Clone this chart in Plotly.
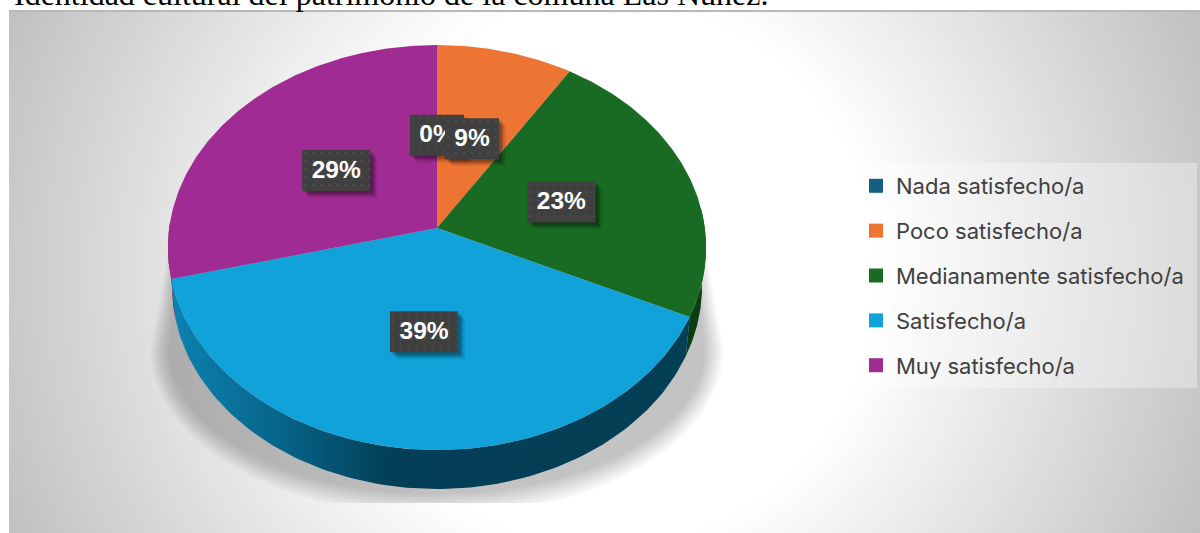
import numpy as np
import plotly.graph_objects as go

# ---- data ----
categories = ["Nada satisfecho/a", "Poco satisfecho/a", "Medianamente satisfecho/a", "Satisfecho/a", "Muy satisfecho/a"]
values = [0, 9, 23, 39, 29]
colors = ["#156082", "#EE7433", "#196B24", "#11A2DA", "#A02B93"]
wall_colors = ["#0b3a50", "#7a3a18", "#0b3d10", "#043f55", "#5a1853"]
title_text = "Identidad cultural del patrimonio de la comuna Las Núñez."

# ---- pie projection (tilted disc in perspective, axis units are pixels) ----
CX, CY, AX, BY, K, DEPTH = 437.0, 228.0, 267.8, 200.6, 0.0963, 39.0
W, H = 1200, 533


def project(t_deg, f=1.0, dy=0.0, sx=1.0):
    t = np.radians(np.asarray(t_deg, dtype=float))
    X, Y = f * np.sin(t), f * np.cos(t)
    w = 1 + K * Y
    return CX + sx * AX * X / w, CY + dy - BY * Y / w


cum = np.concatenate([[0], np.cumsum(values)]) / sum(values) * 360
fig = go.Figure()

# ---- chart background ----
gx = np.arange(12, 1204, 6.0)
gy = np.arange(14, 537, 6.0)
gxx, gyy = np.meshgrid(gx, gy)
rad = np.hypot(gxx - 604, gyy - 272)
z = 255 - 63 * np.clip((rad - 270) / 380, 0, 1.05)
fig.add_trace(go.Heatmap(x=gx, y=gy, z=z, zmin=0, zmax=255, zsmooth="best",
                         colorscale=[[0, "#000000"], [1, "#ffffff"]], showscale=False,
                         hoverinfo="skip"))
fig.add_trace(go.Scatter(x=[9, 1200], y=[11, 11], mode="lines", line=dict(color="#b9b9b9", width=2),
                         showlegend=False, hoverinfo="skip"))

# ---- shadow ----
for e in np.linspace(1, 20, 15):
    a = 267 + e
    b = 143 + 1.2 * e
    th = np.linspace(0, np.pi, 80)
    px = 437 + a * np.cos(th)
    py = np.minimum(350 + b * np.sin(th), 503)
    top = 250 + 0.4 * e
    px = np.concatenate([[437 + top], px, [437 - top]])
    py = np.concatenate([[190], py, [190]])
    fig.add_trace(go.Scatter(x=px, y=py, mode="lines", fill="toself", line=dict(width=0),
                             fillcolor="rgba(0,0,0,0.017)", showlegend=False, hoverinfo="skip"))

# ---- legend panel ----
fig.add_trace(go.Scatter(x=[863, 1197, 1197, 863, 863], y=[163, 163, 388, 388, 163], mode="lines",
                         fill="toself", line=dict(width=0), fillcolor="rgba(255,255,255,0.33)",
                         showlegend=False, hoverinfo="skip"))

# ---- pie side wall ----
wall_spans = [(max(cum[2], 84), cum[3], 2), (cum[3], cum[4], 3), (cum[4], 272, 4)]
for t0, t1, idx in wall_spans:
    ts = np.linspace(t0, t1, 120)
    xt, yt = project(ts)
    xb, yb = project(ts[::-1], dy=DEPTH, sx=0.985)
    kwargs = dict(fillcolor=wall_colors[idx])
    if idx == 3:
        kwargs = dict(fillgradient=dict(type="horizontal", colorscale=[
            [0, "#0c82b2"], [0.2, "#07668c"], [0.42, "#043f58"], [1, wall_colors[3]]]))
    fig.add_trace(go.Scatter(x=np.r_[xt, xb, xt[0]], y=np.r_[yt, yb, yt[0]], mode="lines", fill="toself",
                             line=dict(width=0), showlegend=False, hoverinfo="skip", **kwargs))

# ---- pie top face ----
for i, cat in enumerate(categories):
    if values[i] == 0:
        continue
    ts = np.linspace(cum[i], cum[i + 1], 160)
    xa, ya = project(ts)
    fig.add_trace(go.Scatter(x=np.r_[CX, xa, CX], y=np.r_[CY, ya, CY], mode="lines", fill="toself",
                             line=dict(width=0), fillcolor=colors[i], name=cat,
                             showlegend=False, hoverinfo="name"))

# ---- data labels ----
for i, v in enumerate(values):
    label = f"{v}%"
    lx, ly = project((cum[i] + cum[i + 1]) / 2, f=0.49)
    lx, ly = float(lx), float(ly) + 1
    hw = 34 if len(label) == 3 else 27
    hh = 20.5
    for off, alpha in ((7, 0.07), (5.5, 0.10), (4, 0.14), (2.5, 0.18)):
        fig.add_trace(go.Scatter(
            x=[lx - hw + off, lx + hw + off, lx + hw + off, lx - hw + off, lx - hw + off],
            y=[ly - hh + off, ly - hh + off, ly + hh + off, ly + hh + off, ly - hh + off],
            mode="lines", fill="toself", line=dict(width=0), fillcolor=f"rgba(0,0,0,{alpha})",
            showlegend=False, hoverinfo="skip"))
    fig.add_trace(go.Scatter(
        x=[lx - hw, lx + hw, lx + hw, lx - hw, lx - hw],
        y=[ly - hh, ly - hh, ly + hh, ly + hh, ly - hh],
        mode="lines", fill="toself", line=dict(width=0), fillcolor="#404040",
        showlegend=False, hoverinfo="skip"))
    dots_x, dots_y = np.meshgrid(np.arange(lx - hw + 3, lx + hw, 8), np.arange(ly - hh + 3, ly + hh, 8))
    fig.add_trace(go.Scatter(x=dots_x.ravel(), y=dots_y.ravel(), mode="markers",
                             marker=dict(size=2.5, color="rgba(255,255,255,0.07)"),
                             showlegend=False, hoverinfo="skip"))
    fig.add_trace(go.Scatter(x=[lx], y=[ly + 1], mode="text", text=[label], textposition="middle center",
                             textfont=dict(family="Liberation Sans", size=24.5, color="#ffffff",
                                           weight="bold"),
                             showlegend=False, hoverinfo="skip", cliponaxis=False))

# ---- legend entries ----
for cat, col in zip(categories, colors):
    fig.add_trace(go.Scatter(x=[None], y=[None], mode="markers", name=cat, legendgroup=cat,
                             marker=dict(symbol="square", size=14, color=col)))

fig.update_layout(
    width=W, height=H, margin=dict(l=0, r=0, t=0, b=0),
    paper_bgcolor="#ffffff", plot_bgcolor="#ffffff",
    xaxis=dict(range=[0, W], visible=False, fixedrange=True),
    yaxis=dict(range=[H, 0], visible=False, fixedrange=True),
    showlegend=True,
    legend=dict(x=(856) / W, y=1 - 165 / H, xanchor="left", yanchor="top",
                bgcolor="rgba(0,0,0,0)", borderwidth=0, tracegroupgap=13.25,
                font=dict(family="Inter", size=22, color="#404040"),
                itemclick=False, itemdoubleclick=False),
    annotations=[dict(text=title_text, x=12, y=14, xref="x", yref="y", xanchor="left", yanchor="bottom",
                      showarrow=False,
                      font=dict(family="Liberation Serif", size=32, color="#000000"))],
)

fig.write_html("out.html", post_script="document.body.style.margin='0';document.body.style.overflow='hidden';",
               config=dict(displayModeBar=False))
